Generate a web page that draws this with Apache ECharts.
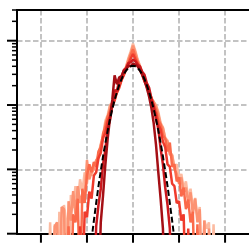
<!DOCTYPE html>
<html>
<head>
<meta charset="utf-8">
<script src="https://cdn.jsdelivr.net/npm/echarts@6/dist/echarts.min.js"></script>
<style>
  html, body { margin: 0; padding: 0; background: #fff; }
  #chart { width: 249px; height: 250px; }
</style>
</head>
<body>
<div id="chart"></div>
<script>
// bin centres
const bins = [-1.9,-1.85,-1.8,-1.75,-1.7,-1.65,-1.6,-1.55,-1.5,-1.45,-1.4,-1.35,-1.3,-1.25,-1.2,-1.15,-1.1,-1.05,-1,-0.95,
  -0.9,-0.85,-0.8,-0.75,-0.7,-0.65,-0.6,-0.55,-0.5,-0.45,-0.4,-0.35,-0.3,-0.25,-0.2,-0.15,-0.1,-0.05,
  0,
  0.05,0.1,0.15,0.2,0.25,0.3,0.35,0.4,0.45,0.5,0.55,0.6,0.65,0.7,0.75,0.8,0.85,0.9,0.95,1,
  1.05,1.1,1.15,1.2,1.25,1.3,1.35,1.4,1.45,1.5,1.55,1.6,1.65,1.7,1.75,1.8,1.85,1.9];

// counts per bin, lightest run first
const run1 = [0,0,1.5,0,1.4, 0,2.2,0,2.8,1.5, 0,4,2.5,5.5,3, 7,4.5,9,6,12, 8,11,12,17,25, 33,57,70,100,108, 135,158,205,246,322, 398,535,680,
  900,
  700,515,410,310,255, 196,165,128,112,100, 78,53,45,31,28, 18,17,11,12,7, 8.5,5,6.5,3.5,5, 2.5,3.6,1.8,2.6,0, 1.6,1.2,1.5,0,1.4, 0,0,0];
const run2 = [0,0,0,0,1.3, 1.5,0,2.6,2.4,0, 3.2,1.6,4.6,2,5.5, 3,4.2,3.6,14,7, 9,10,14,15,24, 30,52,64,95,108, 136,157,205,244,320, 392,505,640,
  840,
  660,490,405,310,256, 195,166,128,112,95, 72,50,44,30,27, 17,16.5,10,8.5,6, 7.5,4.4,5.2,3,4.4, 2,3.5,1.5,2.4,0, 1.6,0,1.2,0,0, 0,0,0];
const run3 = [0,0,0,0,0, 0,0,0,0,0, 1.3,0,2,1.5,3.5, 0,5,3,8,12, 9,13,11,19,22, 36,46,66,80,104, 122,163,196,248,298, 375,450,590,
  735,
  575,460,365,305,240, 204,156,130,100,85, 58,50,34,30,19, 26,11,12,6.5,7.5, 3.8,5.2,2.4,3.4,1.5, 2.2,0,1.4,0,0, 0,0,0,0,0, 0,0,0];
const run4 = [0,0,0,0,0, 0,0,0,0,0, 0,0,0,0,0, 1.3,0,2.2,1.8,4.5, 3.5,8,9,15,18, 31,37,56,67,95, 116,156,185,242,290, 360,420,525,
  620,
  515,432,350,298,232, 194,148,123,88,74, 50,42,27,22,12, 11,6,5.5,3,3.2, 1.6,2,0,1.2,0, 0,0,0,0,0, 0,0,0,0,0, 0,0,0];
const run5 = [0,0,0,0,0, 0,0,0,0,0, 0,0,0,0,0, 0,0,0,0,0, 0,0,1.3,2.8,5, 12,20,44,58,100, 170,165,240,270,350, 375,450,460,
  505,
  480,425,400,330,295, 220,185,126,98,60, 43,21,12,5.2,2.8, 1.2,0,0,0,0, 0,0,0,0,0, 0,0,0,0,0, 0,0,0,0,0, 0,0,0];
const run6 = [0,0,0,0,0, 0,0,0,0,0, 0,0,0,0,0, 0,0,0,0,0, 0,0,0,0,1.5, 4,12,30,62,120, 290,210,270,280,340, 350,410,400,
  440,
  425,400,350,295,240, 185,135,90,52,24, 9,3.5,1.2,0,0, 0,0,0,0,0, 0,0,0,0,0, 0,0,0,0,0, 0,0,0,0,0, 0,0,0];
// gaussian reference
const gaussFit = [0,0,0,0,0, 0,0,0,0,0, 0,0,0,0,0, 0,0,0,0,0.4, 0.82,1.6,3,5.5,9.5, 16,25.8,40,60,86, 120,159,204,252,300, 343,377,400,
  407,
  400,377,343,300,252, 204,159,120,86,60, 40,25.8,16,9.5,5.5, 3,1.6,0.82,0.4,0, 0,0,0,0,0, 0,0,0,0,0, 0,0,0,0,0, 0,0,0];

const runs = [run1, run2, run3, run4, run5, run6];
const runColors = ['#fcbba1', '#fc9272', '#fb6a4a', '#ef3b2c', '#cb181d', '#a50f15'];

const xTicks = [-2, -1, 0, 1, 2];
const yMajor = [1, 10, 100, 1000];
const yMinor = [2,3,4,5,6,7,8,9, 20,30,40,50,60,70,80,90, 200,300,400,500,600,700,800,900, 2000,3000];

const xMin = -2.52, xMax = 2.52, yMin = 1, yMax = 3000;

// empty bins go below the axis so the line drops to the bottom
const toPoints = arr => bins.map((x, i) => [x, arr[i] > 0 ? arr[i] : 0.1]);

const chart = echarts.init(document.getElementById('chart'), null, {renderer: 'canvas'});

const series = runs.map((arr, k) => ({
  type: 'line',
  data: toPoints(arr),
  showSymbol: false,
  lineStyle: {color: runColors[k], width: 2.5},
  itemStyle: {color: runColors[k]},
  clip: true,
  z: 3
}));

series.push({
  type: 'line',
  data: toPoints(gaussFit),
  showSymbol: false,
  lineStyle: {color: '#000', width: 2, type: [6, 3]},
  clip: true,
  z: 4
});

const tickSeries = (data, draw) => ({
  type: 'custom',
  silent: true,
  clip: false,
  z: 6,
  data: data,
  renderItem: (params, api) => draw(api.coord([api.value(0), api.value(1)]))
});

series.push(tickSeries(xTicks.map(v => [v, yMin]), p => ({
  type: 'line',
  shape: {x1: p[0], y1: p[1], x2: p[0], y2: p[1] + 9},
  style: {stroke: '#000', lineWidth: 2}
})));
series.push(tickSeries(yMajor.map(v => [xMin, v]), p => ({
  type: 'line',
  shape: {x1: p[0] - 10, y1: p[1], x2: p[0], y2: p[1]},
  style: {stroke: '#000', lineWidth: 2}
})));
series.push(tickSeries(yMinor.map(v => [xMin, v]), p => ({
  type: 'line',
  shape: {x1: p[0] - 5, y1: p[1], x2: p[0], y2: p[1]},
  style: {stroke: '#000', lineWidth: 1.5}
})));
// top spine
series.push(tickSeries([[xMin, yMax]], p => ({
  type: 'line',
  shape: {x1: p[0] - 1, y1: p[1], x2: p[0] + 260, y2: p[1]},
  style: {stroke: '#000', lineWidth: 2}
})));

const grid_line = {
  show: true, showMinLine: false, showMaxLine: false,
  lineStyle: {color: '#b0b0b0', width: 1.5, type: [5.5, 2.5]}
};

chart.setOption({
  animation: false,
  grid: {left: 17, top: 10, width: 234.4, height: 223.7},
  xAxis: {
    type: 'value', min: xMin, max: xMax,
    axisLine: {show: true, onZero: false, lineStyle: {color: '#000', width: 2}},
    axisTick: {show: false},
    axisLabel: {show: false},
    splitLine: grid_line
  },
  yAxis: {
    type: 'log', logBase: 10, min: yMin, max: yMax,
    axisLine: {show: true, onZero: false, lineStyle: {color: '#000', width: 2}},
    axisTick: {show: false},
    axisLabel: {show: false},
    minorTick: {show: false},
    splitLine: grid_line
  },
  series: series
});
</script>
</body>
</html>
